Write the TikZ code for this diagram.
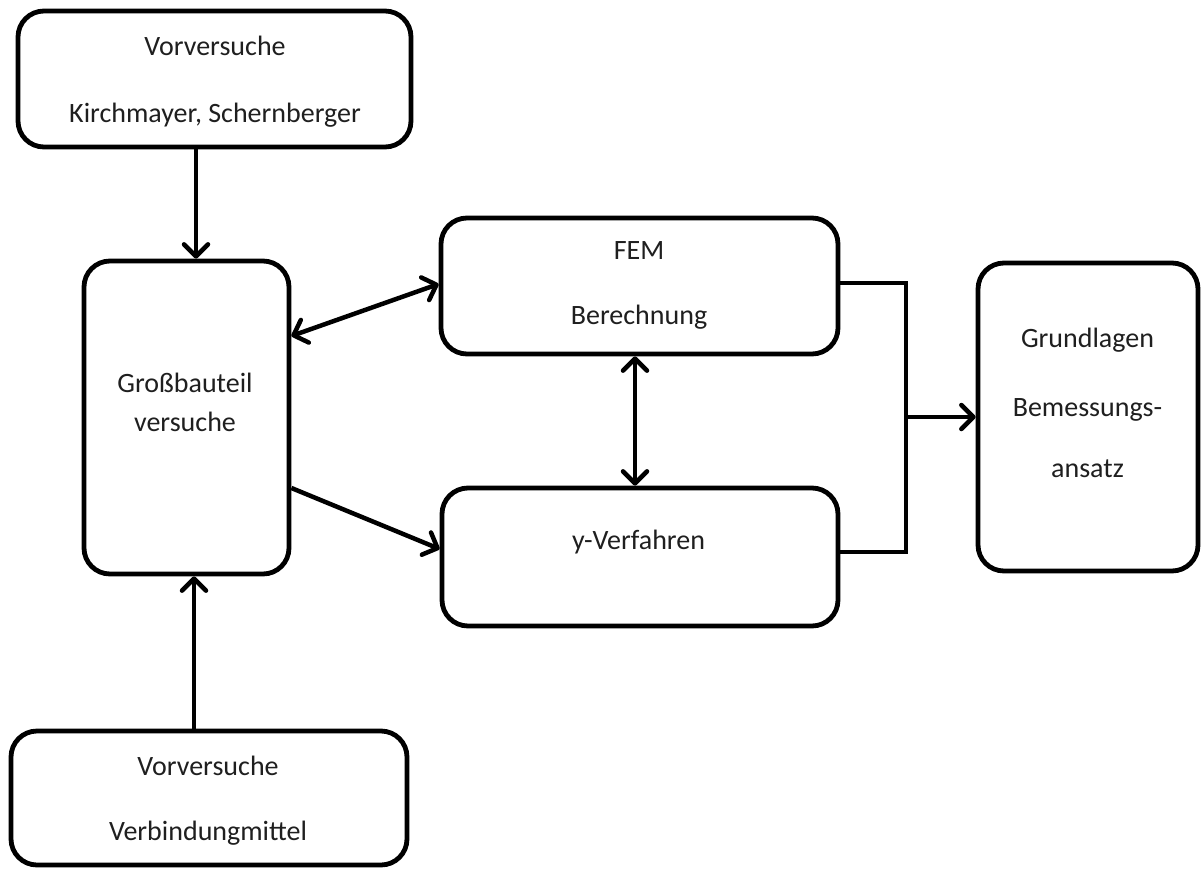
\documentclass[tikz,border=0pt]{standalone}
\usepackage{fontspec}
\setmainfont{Carlito}
\usetikzlibrary{arrows.meta}
\begin{document}
\begin{tikzpicture}[x=1pt,y=-1pt,
  box/.style={draw, line width=4.8pt, rounded corners=26pt, inner sep=0pt},
  lbl/.style={align=center, inner sep=0pt, font=\fontsize{28}{34}\selectfont, text=black!88},
  con/.style={line width=4.5pt, line join=miter},
  arr/.style={con, -{Straight Barb[length=12pt,width=24pt,round]}},
  darr/.style={con, {Straight Barb[length=12pt,width=24pt,round]}-{Straight Barb[length=12pt,width=24pt,round]}}]
\useasboundingbox[fill=white] (0,0) rectangle (1201,870);
% boxes
\node (vt) [box, minimum width=393pt, minimum height=136pt] at (214.5,79) {};
\node (gb) [box, minimum width=205pt, minimum height=313pt] at (186.5,417.5) {};
\node (vb) [box, minimum width=396pt, minimum height=134pt] at (209,798) {};
\node (fem) [box, minimum width=397pt, minimum height=136pt] at (639.5,286) {};
\node (yv) [box, minimum width=396pt, minimum height=138pt] at (640,557) {};
\node (gr) [box, minimum width=220pt, minimum height=308pt] at (1088,417) {};
% texts
\node (vtt) [lbl] at (215,81.5) {Vorversuche\\[33pt]Kirchmayer, Schernberger};
\node (gbt) [lbl] at (185,402.5) {Großbauteil\\[5pt]versuche};
\node (vbt) [lbl] at (208,800.5) {Vorversuche\\[31pt]Verbindungmittel};
\node (femt) [lbl] at (639,285.5) {FEM\\[31pt]Berechnung};
\node (yvt) [lbl] at (638.5,542) {y-Verfahren};
\node (grt) [lbl] at (1087.5,403) {Grundlagen\\[35pt]Bemessungs-\\[27pt]ansatz};
% connectors
\draw[arr] ([xshift=-18.5]vt.south) -- ([xshift=9.5]gb.north);
\draw[arr] ([xshift=-15]vb.north) -- ([xshift=7.5]gb.south);
\draw[darr] ([yshift=81.5]gb.east) -- ([yshift=2]fem.west);
\draw[arr] ([yshift=-70.5]gb.east) -- ([yshift=8]yv.west);
\draw[darr] ([xshift=-4.5]fem.south) -- ([xshift=-5]yv.north);
\coordinate (jx) at (906,417);
\draw[con] ([yshift=3]fem.east) -| (jx) |- ([yshift=5]yv.east);
\draw[arr] (jx) -- (gr.west);
\end{tikzpicture}
\end{document}
